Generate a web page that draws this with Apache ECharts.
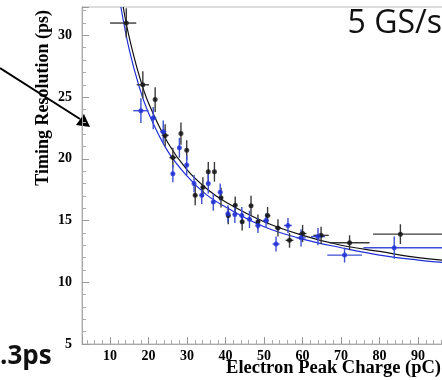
<!DOCTYPE html>
<html>
<head>
<meta charset="utf-8">
<script src="https://cdn.jsdelivr.net/npm/echarts@6/dist/echarts.min.js"></script>
<style>
  html, body {margin: 0; padding: 0; background: #fff;}
  #chart {width: 442px; height: 380px;}
</style>
</head>
<body>
<div id="chart"></div>
<script>
// black points (x in pC, y in ps), with errors
const blackX = [14.2, 18.5, 21.7, 24.3, 26.3, 28.4, 29.9, 32.1, 34.1, 35.5, 37.1, 38.8, 40.7, 42.5, 44.3, 46.6, 48.4, 50.9, 53.6, 56.6, 60.0, 64.8, 72.2, 85.4];
const blackY = [31.0, 26.0, 24.8, 21.9, 20.1, 22.05, 20.7, 17.05, 17.7, 18.95, 18.95, 16.85, 15.4, 16.25, 14.9, 16.2, 14.9, 15.4, 14.4, 13.4, 13.95, 13.8, 13.2, 13.9];
const blackXLo = [4.2, 1.6, 0.3, 0.9, 0.9, 0.3, 0.3, 0.5, 0.5, 0.3, 0.3, 0.5, 0.5, 0.5, 0.5, 0.5, 0.5, 0.7, 0.8, 1.0, 1.0, 2.0, 5.2, 7.1];
const blackXHi = [2.6, 1.6, 0.3, 0.9, 0.9, 0.3, 0.3, 0.5, 0.5, 0.3, 0.3, 0.5, 0.5, 0.5, 0.5, 0.5, 0.5, 0.7, 0.8, 1.0, 1.0, 2.0, 5.2, 12];
const blackYErr = [1.2, 1.1, 1.0, 0.9, 0.8, 0.9, 0.8, 0.8, 0.8, 0.8, 0.8, 0.8, 0.7, 0.7, 0.7, 0.8, 0.6, 0.7, 0.7, 0.6, 0.7, 0.7, 0.6, 0.8];

// blue points
const blueX = [18.0, 21.2, 23.8, 26.3, 28.0, 29.9, 31.8, 33.8, 35.5, 36.8, 38.6, 40.6, 42.4, 44.2, 46.2, 48.4, 50.5, 53.1, 56.2, 59.6, 64.0, 70.9, 83.8];
const blueY = [23.9, 23.3, 22.2, 18.8, 20.9, 19.5, 18.0, 17.05, 18.0, 16.5, 17.3, 15.55, 15.5, 15.4, 15.1, 14.6, 15.0, 13.1, 14.6, 13.6, 13.7, 12.2, 12.8];
const blueXLo = [2.0, 0.8, 0.8, 0.5, 0.4, 0.4, 0.4, 0.5, 0.4, 0.5, 0.5, 0.5, 0.5, 0.5, 0.6, 0.6, 0.7, 0.9, 1.0, 1.2, 1.8, 4.5, 8];
const blueXHi = [2.0, 0.8, 0.8, 0.5, 0.4, 0.4, 0.4, 0.5, 0.4, 0.5, 0.5, 0.5, 0.5, 0.5, 0.6, 0.6, 0.7, 0.9, 1.0, 1.2, 1.8, 4.5, 14];
const blueYErr = [1.0, 0.9, 0.9, 0.7, 0.8, 0.8, 0.7, 0.7, 0.8, 0.7, 0.7, 0.7, 0.7, 0.7, 0.7, 0.6, 0.6, 0.6, 0.6, 0.7, 0.7, 0.6, 0.9];

// fit curves, points
const blackFitX = [13.4, 15, 17.5, 20, 25, 30, 35, 40, 50, 60, 70, 80, 90, 100];
const blackFitY = [32.3, 29.8, 26.8, 24.5, 21.3, 19.1, 17.6, 16.5, 14.9, 13.8, 13.0, 12.5, 12.0, 11.7];
const blueFitX = [12.8, 15, 17.5, 20, 25, 30, 35, 40, 50, 60, 70, 80, 90, 100];
const blueFitY = [32.3, 28.8, 25.9, 23.7, 20.6, 18.6, 17.1, 16.1, 14.5, 13.5, 12.8, 12.2, 11.8, 11.5];

const BLACK = '#111';
const BLUE = '#1f2fd8';
const serif = 'Liberation Serif';

function points(xs, ys) {
  return xs.map((x, i) => [x, ys[i]]);
}
function errData(xs, ys, xlo, xhi, yerr) {
  return xs.map((x, i) => [x, ys[i], x - xlo[i], x + xhi[i], ys[i] - yerr[i], ys[i] + yerr[i]]);
}
function errorBars(color) {
  return function (params, api) {
    const c = api.coord([api.value(0), api.value(1)]);
    const l = api.coord([api.value(2), api.value(1)]);
    const r = api.coord([api.value(3), api.value(1)]);
    const b = api.coord([api.value(0), api.value(4)]);
    const t = api.coord([api.value(0), api.value(5)]);
    const style = {stroke: color, lineWidth: 1.4};
    return {
      type: 'group',
      children: [
        {type: 'line', shape: {x1: l[0], y1: c[1], x2: r[0], y2: c[1]}, style: style},
        {type: 'line', shape: {x1: c[0], y1: b[1], x2: c[0], y2: t[1]}, style: style}
      ]
    };
  };
}

const chart = echarts.init(document.getElementById('chart'));
chart.setOption({
  animation: false,
  grid: {
    left: 82,
    top: 7,
    height: 337,
    width: 374.6,
    outerBoundsMode: 'none',
    containLabel: false,
    show: true,
    borderColor: '#bbb',
    borderWidth: 1
  },
  xAxis: {
    type: 'value',
    min: 2.7,
    max: 100,
    minInterval: 10,
    maxInterval: 10,
    axisLine: {lineStyle: {color: '#aaa'}},
    axisTick: {inside: true, length: 7, lineStyle: {color: '#999'}},
    minorTick: {show: true, splitNumber: 5, length: 4, lineStyle: {color: '#aaa'}},
    splitLine: {show: false},
    axisLabel: {
      showMinLabel: false,
      margin: 5,
      color: '#000',
      fontFamily: serif,
      fontWeight: 'bold',
      fontSize: 14
    }
  },
  yAxis: {
    type: 'value',
    min: 5,
    max: 32.3,
    interval: 5,
    axisLine: {show: true, lineStyle: {color: '#aaa'}},
    axisTick: {show: true, inside: true, length: 7, lineStyle: {color: '#999'}},
    minorTick: {show: true, splitNumber: 5, length: 4, lineStyle: {color: '#aaa'}},
    splitLine: {show: false},
    axisLabel: {
      showMaxLabel: false,
      margin: 10,
      color: '#000',
      fontFamily: serif,
      fontWeight: 'bold',
      fontSize: 14
    }
  },
  series: [
    {
      type: 'line',
      data: points(blackFitX, blackFitY),
      smooth: 0.4,
      symbol: 'none',
      lineStyle: {color: BLACK, width: 1.2},
      z: 2
    },
    {
      type: 'line',
      data: points(blueFitX, blueFitY),
      smooth: 0.4,
      symbol: 'none',
      lineStyle: {color: BLUE, width: 1.2},
      z: 2
    },
    {
      type: 'custom',
      renderItem: errorBars('#3a3a3a'),
      data: errData(blackX, blackY, blackXLo, blackXHi, blackYErr),
      z: 3
    },
    {
      type: 'custom',
      renderItem: errorBars('#3d4fd2'),
      data: errData(blueX, blueY, blueXLo, blueXHi, blueYErr),
      z: 3
    },
    {
      type: 'scatter',
      data: points(blackX, blackY),
      symbolSize: 5,
      itemStyle: {color: BLACK},
      z: 4
    },
    {
      type: 'scatter',
      data: points(blueX, blueY),
      symbolSize: 5,
      itemStyle: {color: BLUE},
      z: 4
    }
  ],
  graphic: [
    {
      type: 'text',
      x: 43,
      y: 10,
      rotation: Math.PI / 2,
      style: {
        text: 'Timing Resolution (ps)',
        fontFamily: serif,
        fontWeight: 'bold',
        fontSize: 18,
        fill: '#000',
        align: 'right',
        verticalAlign: 'middle'
      }
    },
    {
      type: 'text',
      right: 1,
      top: 359,
      style: {
        text: 'Electron Peak Charge (pC)',
        fontFamily: serif,
        fontWeight: 'bold',
        fontSize: 18.5,
        fill: '#000'
      }
    },
    {
      type: 'text',
      right: 0,
      top: 8,
      style: {
        text: '5 GS/s',
        fontFamily: 'Open Sans',
        fontSize: 32,
        fill: '#111'
      }
    },
    {
      type: 'text',
      left: 0,
      top: 344,
      style: {
        text: '.3ps',
        fontFamily: 'Open Sans',
        fontWeight: 'bold',
        fontSize: 26,
        fill: '#111'
      }
    },
    {
      type: 'line',
      shape: {x1: 0, y1: 68, x2: 80, y2: 119},
      style: {stroke: '#000', lineWidth: 2}
    },
    {
      type: 'polygon',
      shape: {points: [[90, 127], [76, 125], [84, 114]]},
      style: {fill: '#000'}
    }
  ]
});
</script>
</body>
</html>
